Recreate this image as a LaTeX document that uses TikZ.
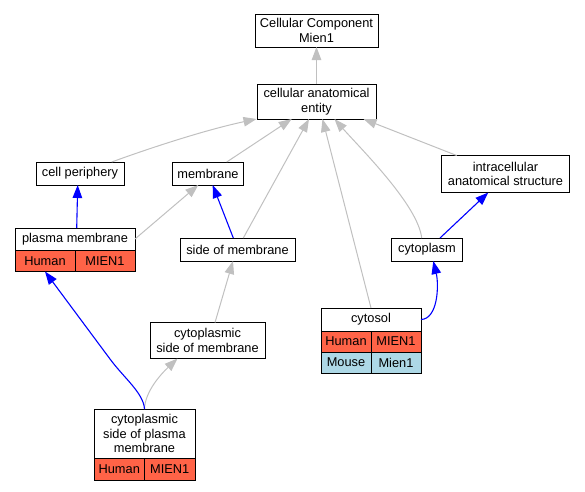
\documentclass[tikz,border=0pt]{standalone}
\usepackage{fontspec}
\setmainfont{Liberation Sans}
\usetikzlibrary{
  arrows.meta,
  positioning
}
\definecolor{isagray}{RGB}{192,192,192}
\definecolor{human}{RGB}{255,99,71}
\definecolor{mouse}{RGB}{173,216,230}
\tikzset{
  >={Triangle[length=13pt,width=9.5pt]},
  every node/.style = {font=\fontsize{12.8}{14.5}\selectfont},
  term/.style = {draw, line width=1pt, fill=white, inner sep=0pt,
    outer sep=0pt, align=center},
  boxsize/.style 2 args = {minimum width=#1pt, minimum height=#2pt},
  gene/.style = {term, boxsize={50}{21}},
  isa/.style = {->, isagray, line width=1pt},
  partof/.style = {->, blue, line width=1.1pt},
}

\begin{document}
\begin{tikzpicture}[x=1pt, y=-1pt]
  \useasboundingbox (0,0) rectangle (585,491);
  % terms
  \node[term, boxsize={123}{33}] (ccm) at (316.5,30.5) {Cellular Component\\Mien1};
  \node[term, boxsize={119}{35}] (cae) at (316.5,101.5) {cellular anatomical\\entity};
  \node[term, boxsize={88}{23}] (periph) at (80,173.5) {cell periphery};
  \node[term, boxsize={71}{23}] (membr) at (208,173.5) {membrane};
  \node[term, boxsize={128}{37}] (intra) at (505.5,174) {intracellular\\anatomical structure};
  \node[term, boxsize={120}{22}] (plasma) at (75,239) {plasma membrane};
  \node[term, boxsize={115}{23}] (sidem) at (237.5,249.5) {side of membrane};
  \node[term, boxsize={71}{23}] (cytopl) at (427,249.5) {cytoplasm};
  \node[term, boxsize={100}{23}] (cytosol) at (371,319.5) {cytosol};
  \node[term, boxsize={115}{36}] (cytosm) at (207.5,340.5) {cytoplasmic\\side of membrane};
  \node[term, boxsize={101}{49}] (cspm) at (144.5,433.5) {cytoplasmic\\side of plasma\\membrane};
  % gene rows
  \node[gene, boxsize={60}{21.5}, fill=human, anchor=north west] (plasmaH) at (plasma.south west) {Human};
  \node[gene, boxsize={60}{21.5}, fill=human, right=0pt of plasmaH] (plasmaG) {MIEN1};
  \node[gene, fill=human, anchor=north west] (cytosolH) at (cytosol.south west) {Human};
  \node[gene, fill=human, right=0pt of cytosolH] (cytosolG) {MIEN1};
  \node[gene, fill=mouse, below=0pt of cytosolH] (cytosolM) {Mouse};
  \node[gene, fill=mouse, right=0pt of cytosolM] (cytosolMg) {Mien1};
  \node[gene, boxsize={50.5}{22}, fill=human, anchor=north west] (cspmH) at (cspm.south west) {Human};
  \node[gene, boxsize={50.5}{22}, fill=human, right=0pt of cspmH] (cspmG) {MIEN1};
  % is_a
  \draw[isa] (cae) -- (ccm);
  \draw[isa] ([xshift=31.7]periph.north) .. controls (150,148) and (205,130) .. ([xshift=-60]cae.south);
  \draw[isa] ([xshift=18.7]membr.north) -- ([xshift=-24.8]cae.south);
  \draw[isa] ([xshift=5.8]sidem.north) -- ([xshift=-7.5]cae.south);
  \draw[isa] (cytosol.north) -- ([xshift=6]cae.south);
  \draw[isa] ([xshift=-5.3]cytopl.north) .. controls (418,205) and (360,148) .. ([xshift=18]cae.south);
  \draw[isa] ([xshift=-48.8]intra.north) -- ([xshift=47]cae.south);
  \draw[isa] (plasma.east) -- ([xshift=-9.7]membr.south);
  \draw[isa] ([xshift=7.5]cytosm.north) -- ([xshift=-4.5]sidem.south);
  \draw[isa] (cspm.north) .. controls (145,392) and (160,375) .. ([xshift=-30]cytosm.south);
  % part_of
  \draw[partof] ([xshift=1.7]plasma.north) -- ([xshift=-2.3]periph.south);
  \draw[partof] ([xshift=-4.2]sidem.north) -- ([xshift=4.7]membr.south);
  \draw[partof] ([xshift=13]cytopl.north) -- ([xshift=-17.2]intra.south);
  \draw[partof] (cytosol.east) .. controls (438,319) and (439,285) .. ([xshift=6.3]cytopl.south);
  \draw[partof] (cspm.north) .. controls (143.5,393) and (124,378) .. (110,359) -- (plasmaH.south);
\end{tikzpicture}
\end{document}
